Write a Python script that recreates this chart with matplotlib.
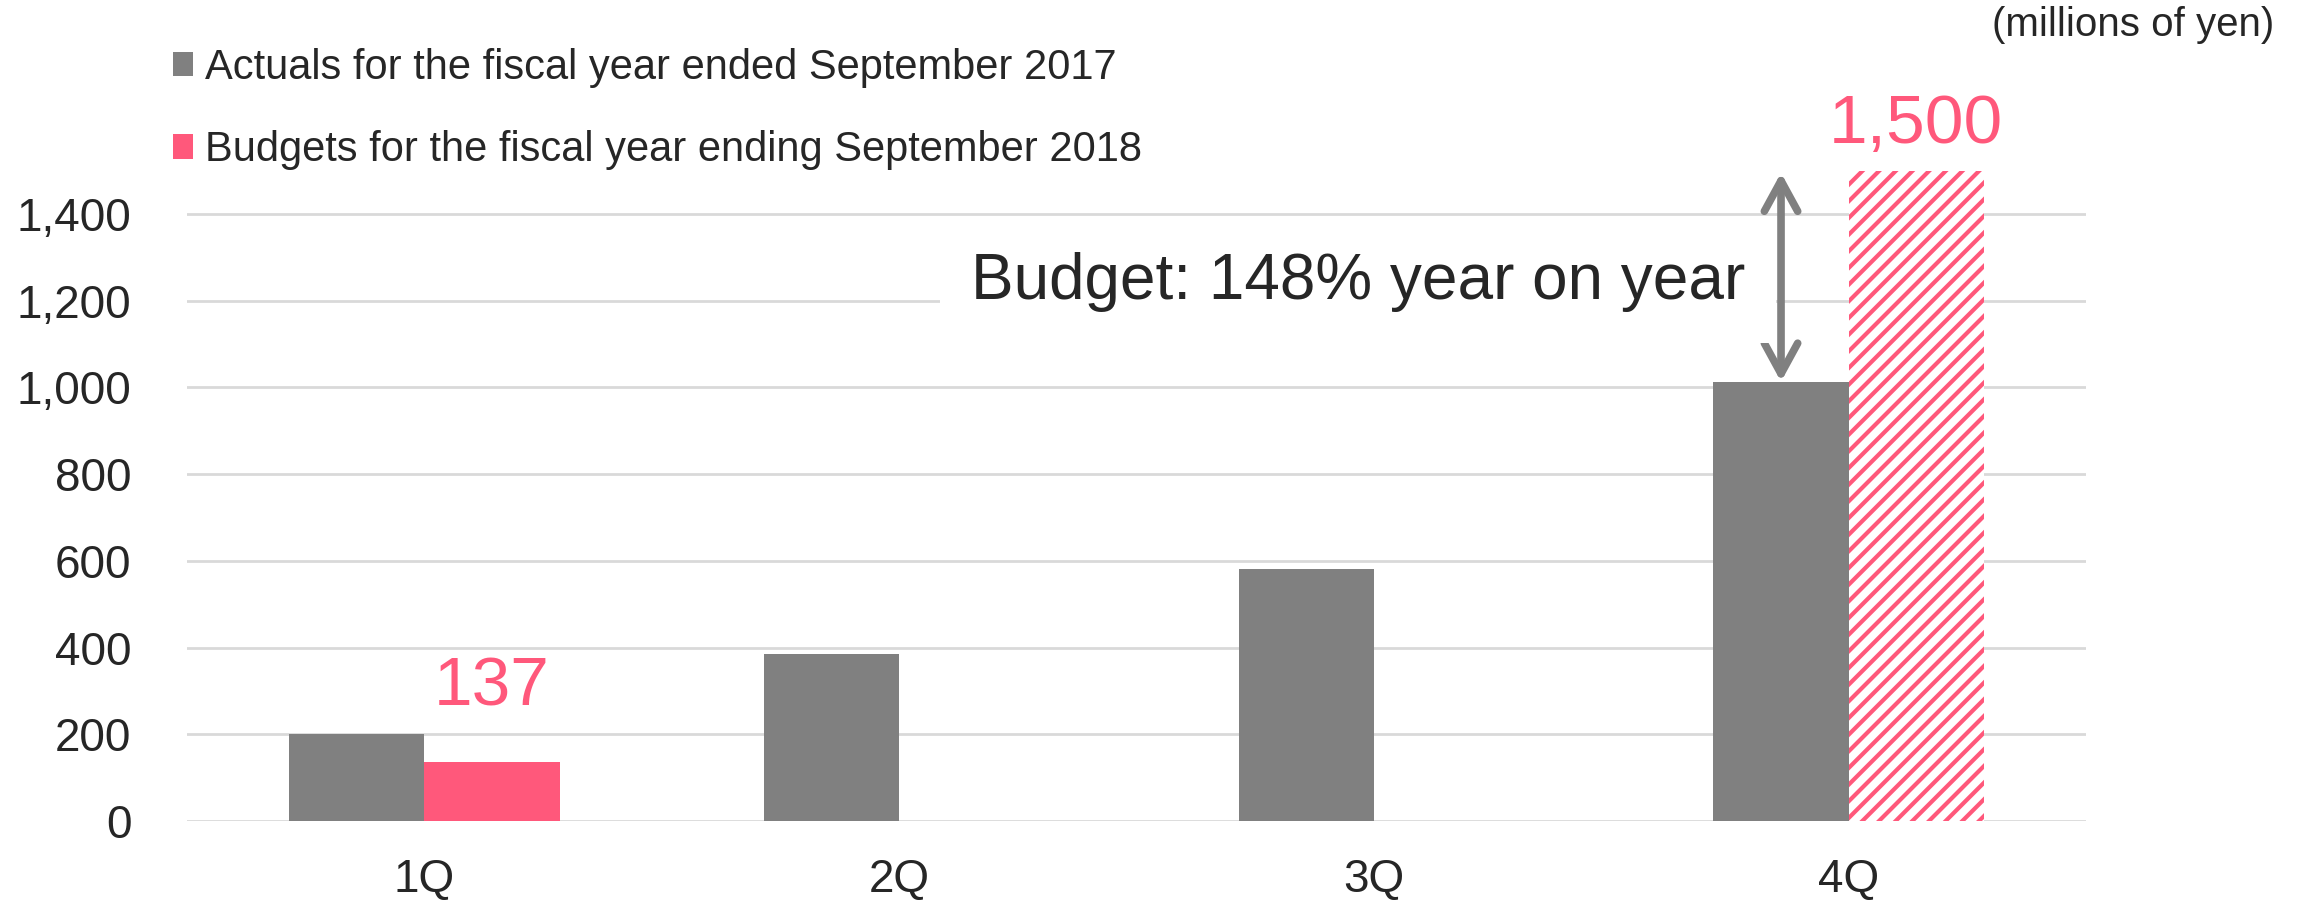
import matplotlib
matplotlib.use("Agg")
import matplotlib.pyplot as plt
import numpy as np

# data (millions of yen)
quarters = ['1Q', '2Q', '3Q', '4Q']
actual_2017 = [200, 386, 582, 1013]
budget_2018 = [137, None, None, 1500]
label_actual = 'Actuals for the fiscal year ended September 2017'
label_budget = 'Budgets for the fiscal year ending September 2018'
y_ticks = [0, 200, 400, 600, 800, 1000, 1200, 1400]
note_text = 'Budget: 148% year on year'

GRAY = '#808080'
PINK = '#FF587B'
TEXT = '#262626'

plt.rcParams['font.family'] = ['Liberation Sans', 'DejaVu Sans']
plt.rcParams['hatch.linewidth'] = 3.0

fig = plt.figure(figsize=(23.04, 9), dpi=100)
ax = fig.add_axes([0.0812, 0.0878, 0.8242, 0.7275])

x = np.arange(len(quarters))
w = 0.285

ax.bar(x - w / 2, actual_2017, width=w, color=GRAY, label=label_actual, zorder=2)

# budget bars: 1Q solid, 4Q hatched (forecast)
ax.bar(x[0] + w / 2, budget_2018[0], width=w, color=PINK, label=label_budget, zorder=2)
ax.bar(x[3] + w / 2, budget_2018[3], width=w, facecolor='white', edgecolor=PINK,
       hatch='//', linewidth=0, zorder=2)

ax.set_xlim(-0.5, 3.5)
ax.set_ylim(0, 1510)
ax.set_yticks(y_ticks)
ax.set_yticklabels([f'{v:,}' for v in y_ticks])
ax.set_xticks(x)
ax.set_xticklabels(quarters)
ax.tick_params(axis='y', length=0, pad=40, labelsize=33, labelcolor=TEXT)
ax.tick_params(axis='x', length=0, pad=27, labelsize=33, labelcolor=TEXT)
ax.yaxis.grid(True, color='#D9D9D9', linewidth=2, zorder=0)
ax.set_axisbelow(True)
for s in ax.spines.values():
    s.set_visible(False)

# value labels on budget bars
for i in [0, 3]:
    off = 53 if i == 0 else 33
    ax.annotate(f'{budget_2018[i]:,}', xy=(x[i] + w / 2, budget_2018[i]),
                xytext=(0, off), textcoords='offset points',
                ha='center', va='center', fontsize=50, color=PINK)

# year-on-year arrow
ax.annotate('', xy=(x[3] - w / 2, actual_2017[3]), xytext=(x[3] - w / 2, budget_2018[3] - 5),
            arrowprops=dict(arrowstyle='<->,head_length=0.55,head_width=0.3',
                            mutation_scale=40, color=GRAY, lw=5.5,
                            shrinkA=0, shrinkB=0, capstyle='round'),
            zorder=3)
ax.text(x[3] - w / 2 - 0.075, 1242, note_text, ha='right', va='center',
        fontsize=46, color=TEXT, zorder=3,
        bbox=dict(facecolor='white', edgecolor='none', pad=22))

fig.text(0.987, 0.972, '(millions of yen)', ha='right', va='center',
         fontsize=29, color=TEXT)

ax.legend(loc='upper left', bbox_to_anchor=(0.075, 0.947), bbox_transform=fig.transFigure,
          frameon=False, fontsize=30, handlelength=0.48, handleheight=0.53,
          handletextpad=0.3, labelspacing=1.02, borderpad=0, borderaxespad=0,
          labelcolor=TEXT)

fig.savefig('out.png', dpi=100)
